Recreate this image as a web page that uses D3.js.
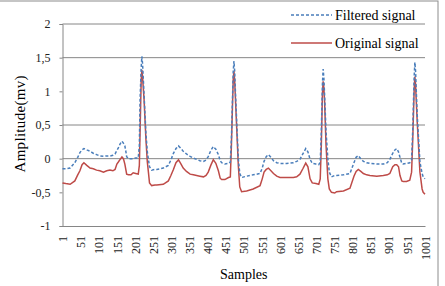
<!DOCTYPE html>
<html>
<head>
<meta charset="utf-8">
<script src="https://cdn.jsdelivr.net/npm/d3@7"></script>
<style>
  body { margin: 0; background: #fff; }
</style>
</head>
<body>
<div id="vis"></div>
<script>
const FRAME_WIDTH = 445;
const FRAME_HEIGHT = 286;
const MARGINS = {left: 62.5, right: 20, top: 24, bottom: 60};
const SERIF = "'Liberation Serif', 'DejaVu Serif', 'Times New Roman', serif";

// sample numbers, with both signals at each one
const samples = [1, 10, 22, 35, 43, 49, 55, 60, 68, 77, 86, 95, 104, 114, 123, 132, 140, 146, 151, 155,
  160, 165, 169, 173, 176, 178, 183, 190, 196, 203, 210, 213, 215, 218, 220, 222, 226, 231, 235, 238, 241, 247,
  256, 261, 279, 293, 300, 307, 314, 321, 328, 334, 343, 353, 362, 371, 380, 390, 397, 403, 410,
  417, 424, 431, 436, 440, 449, 459, 464, 467, 470, 472, 474, 476, 478, 482, 486, 490, 495,
  509, 527, 546, 552, 557, 563, 569, 576, 583, 592, 601, 619, 638, 647, 656, 664, 672, 678, 684,
  690, 700, 708, 712, 715, 718, 720, 722, 724, 728, 733, 737, 743, 752,
  757, 776, 794, 805, 811, 817, 824, 831, 840, 849, 868, 886, 897, 904, 912, 918, 923, 928, 932,
  937, 941, 950, 959, 964, 967, 971, 973, 975, 977, 980, 987, 993, 996, 1001];

const filtered = [-0.15, -0.15, -0.14, -0.06, 0.02, 0.09, 0.13, 0.15, 0.13, 0.11, 0.08, 0.06, 0.04, 0.035, 0.04, 0.04, 0.05, 0.07, 0.12, 0.16,
  0.22, 0.26, 0.23, 0.19, 0.10, 0.03, 0.0, 0.0, 0.0, 0.01, 0.01, 0.2, 0.88, 1.35, 1.52, 1.4, 0.95, 0.39, 0.1, -0.01, -0.12, -0.17,
  -0.16, -0.16, -0.14, -0.10, -0.02, 0.08, 0.15, 0.19, 0.15, 0.11, 0.07, 0.035, 0.01, -0.01, -0.03, -0.04, -0.02, 0.03, 0.12,
  0.18, 0.14, 0.06, -0.03, -0.06, -0.08, -0.07, -0.05, 0.3, 0.9, 1.3, 1.45, 1.3, 1.0, 0.5, 0.0, -0.22, -0.28,
  -0.26, -0.24, -0.22, -0.14, -0.04, 0.03, 0.06, 0.02, -0.03, -0.06, -0.07, -0.07, -0.06, -0.04, -0.01, 0.07, 0.15, 0.10, -0.01,
  -0.07, -0.08, -0.09, -0.05, 0.4, 1.1, 1.33, 1.2, 0.95, 0.4, 0.0, -0.2, -0.27, -0.25,
  -0.25, -0.24, -0.22, -0.06, 0.02, 0.045, 0.0, -0.04, -0.06, -0.07, -0.08, -0.08, -0.06, -0.01, 0.08, 0.13, 0.15, 0.10, 0.02,
  -0.07, -0.08, -0.07, -0.06, -0.02, 0.4, 1.2, 1.43, 1.3, 1.0, 0.6, -0.05, -0.22, -0.27, -0.30];

const original = [-0.36, -0.37, -0.38, -0.33, -0.24, -0.18, -0.09, -0.06, -0.10, -0.14, -0.15, -0.17, -0.18, -0.20, -0.18, -0.17, -0.18, -0.16, -0.08, -0.05,
  -0.01, 0.025, 0.0, -0.08, -0.17, -0.23, -0.24, -0.24, -0.21, -0.22, -0.23, -0.1, 0.4, 1.15, 1.32, 1.2, 0.88, 0.3, -0.05, -0.2, -0.36, -0.40,
  -0.39, -0.39, -0.38, -0.33, -0.25, -0.16, -0.06, -0.015, -0.08, -0.14, -0.19, -0.23, -0.24, -0.25, -0.26, -0.27, -0.25, -0.20, -0.10,
  -0.015, -0.07, -0.18, -0.29, -0.31, -0.31, -0.28, -0.27, 0.2, 0.8, 1.18, 1.30, 1.15, 0.9, 0.4, -0.1, -0.42, -0.49,
  -0.48, -0.45, -0.40, -0.30, -0.20, -0.16, -0.14, -0.18, -0.22, -0.26, -0.28, -0.28, -0.28, -0.27, -0.23, -0.15, -0.065, -0.12, -0.30,
  -0.36, -0.37, -0.38, -0.30, 0.2, 0.95, 1.15, 1.05, 0.85, 0.2, -0.3, -0.45, -0.50, -0.51,
  -0.49, -0.48, -0.44, -0.26, -0.19, -0.16, -0.19, -0.22, -0.24, -0.25, -0.26, -0.25, -0.24, -0.22, -0.12, -0.09, -0.09, -0.12, -0.25,
  -0.33, -0.34, -0.34, -0.32, -0.2, 0.25, 1.0, 1.22, 1.1, 0.85, 0.5, -0.2, -0.45, -0.50, -0.53];

const yTicks = [-1, -0.5, 0, 0.5, 1, 1.5, 2];
const yGrid = [0, 0.5, 1.5, 2];
const xTicks = d3.range(1, 1002, 50);

const FRAME = d3.select("#vis")
  .append("svg")
    .attr("width", FRAME_WIDTH)
    .attr("height", FRAME_HEIGHT);

// outer chart border (only top and right are inside the picture)
FRAME.append("rect")
    .attr("x", -5).attr("y", 1)
    .attr("width", 443).attr("height", 300)
    .attr("fill", "none").attr("stroke", "#8c8c8c");

const X_SCALE = d3.scaleLinear()
    .domain([1, 1001])
    .range([MARGINS.left, FRAME_WIDTH - MARGINS.right]);
const Y_SCALE = d3.scaleLinear()
    .domain([-1, 2])
    .range([FRAME_HEIGHT - MARGINS.bottom, MARGINS.top]);

// grid lines
FRAME.append("g").selectAll("line")
    .data(yGrid)
    .enter().append("line")
      .attr("x1", X_SCALE(1)).attr("x2", X_SCALE(1001))
      .attr("y1", d => Y_SCALE(d)).attr("y2", d => Y_SCALE(d))
      .attr("stroke", "#868686").attr("stroke-width", 1);

// y axis
const fmt = d => String(d).replace(".", ",");
const yAxis = FRAME.append("g")
    .attr("transform", "translate(" + MARGINS.left + ",0)")
    .call(d3.axisLeft(Y_SCALE).tickValues(yTicks).tickFormat(fmt).tickSize(3).tickPadding(9));
yAxis.select(".domain").attr("stroke", "#868686");
yAxis.selectAll(".tick line").attr("stroke", "#868686");
yAxis.selectAll("text")
    .style("font-size", "12px")
    .style("font-family", SERIF)
    .attr("fill", "#222");

// x axis
const xAxis = FRAME.append("g")
    .attr("transform", "translate(0," + Y_SCALE(-1) + ")")
    .call(d3.axisBottom(X_SCALE).tickValues(xTicks).tickFormat(d3.format("d")).tickSize(0));
xAxis.select(".domain").attr("stroke", "#868686");
xAxis.selectAll("text")
    .style("font-size", "12px")
    .style("font-family", SERIF)
    .attr("fill", "#222")
    .attr("transform", "rotate(-90)")
    .attr("text-anchor", "end")
    .attr("x", -10)
    .attr("y", 0)
    .attr("dy", "0.35em");

// series
const line = d3.line()
    .x((d, i) => X_SCALE(samples[i]))
    .y(d => Y_SCALE(d));

FRAME.append("path")
    .datum(original)
    .attr("d", line)
    .attr("fill", "none")
    .attr("stroke", "#be4b48")
    .attr("stroke-width", 1.5);

FRAME.append("path")
    .datum(filtered)
    .attr("d", line)
    .attr("fill", "none")
    .attr("stroke", "#4a7ebb")
    .attr("stroke-width", 1.5)
    .attr("stroke-dasharray", "3,2");

// axis titles
FRAME.append("text")
    .attr("x", (X_SCALE(1) + X_SCALE(1001)) / 2)
    .attr("y", 279)
    .attr("text-anchor", "middle")
    .style("font-family", SERIF)
    .style("font-size", "14px")
    .text("Samples");

FRAME.append("text")
    .attr("transform", "translate(25,124) rotate(-90)")
    .attr("text-anchor", "middle")
    .style("font-family", SERIF)
    .style("font-size", "15px")
    .attr("textLength", 97)
    .text("Amplitude(mv)");

// legend
const legendNames = ["Filtered signal", "Original signal"];
const legendColors = ["#4a7ebb", "#be4b48"];
const legendDash = ["3,2", null];
const legendY = [15, 43];

const legend = FRAME.append("g").selectAll("g")
    .data(legendNames)
    .enter().append("g");
legend.append("line")
    .attr("x1", 291).attr("x2", 332)
    .attr("y1", (d, i) => legendY[i]).attr("y2", (d, i) => legendY[i])
    .attr("stroke", (d, i) => legendColors[i])
    .attr("stroke-width", 1.3)
    .attr("stroke-dasharray", (d, i) => legendDash[i]);
legend.append("text")
    .attr("x", 335)
    .attr("y", (d, i) => legendY[i] + 5)
    .style("font-family", SERIF)
    .style("font-size", "14px")
    .text(d => d);
</script>
</body>
</html>
